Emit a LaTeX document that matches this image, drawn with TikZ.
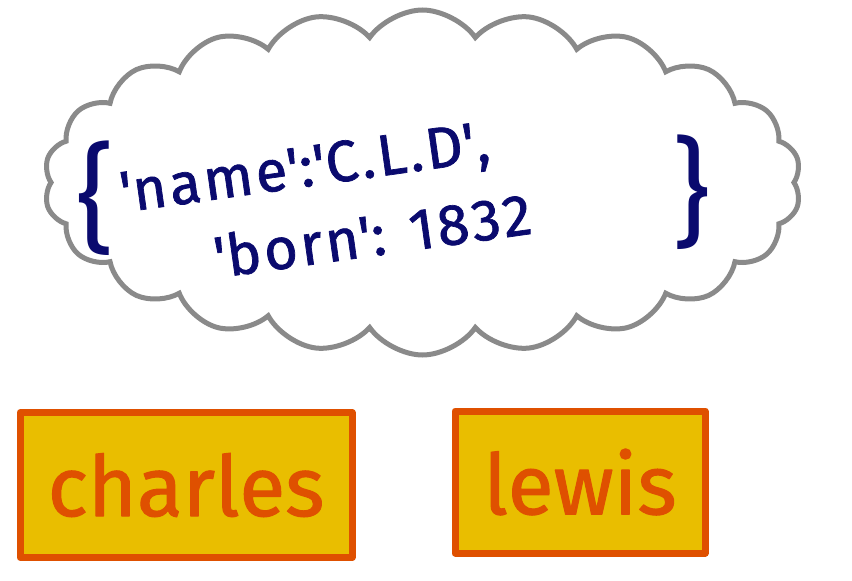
\documentclass[tikz,border=0pt]{standalone}
\usepackage{fontspec}
\setmainfont{Fira Sans}
\newfontfamily\handfont{Fira Sans}[FakeBold=1.2]
\newfontfamily\dictfont{Fira Sans}[FakeBold=1.2, LetterSpace=5]
\usetikzlibrary{shapes.symbols}
\definecolor{cloudgray}{HTML}{8A8A8A}
\definecolor{ink}{HTML}{0A0A6E}
\definecolor{boxedge}{HTML}{DF5000}
\definecolor{boxfill}{HTML}{E9BE00}
\tikzset{
  cloudline/.style={draw=cloudgray, fill=white, line width=5pt, cloud, cloud puffs=22, cloud puff arc=110, inner sep=0pt, minimum width=757pt, minimum height=345pt},
  dicttext/.style={text=ink, font=\dictfont\fontsize{58}{78}\selectfont, inner sep=0pt, align=left},
  bracetext/.style={text=ink, font=\fontsize{118}{120}\selectfont, inner sep=0pt},
  namebox/.style={draw=boxedge, fill=boxfill, line width=7pt, line join=round, text=boxedge, font=\handfont\fontsize{84}{90}\selectfont, inner sep=0pt}
}
\begin{document}
\begin{tikzpicture}[x=1pt,y=-1pt]
  \useasboundingbox (0,0) rectangle (852,581);
  \node[cloudline] (cloud) at (422.5,182.5) {};
  \node[bracetext] (lb) at (95,198) {\{};
  \node[bracetext] (rb) at (691,192) {\}};
  \node[dicttext, rotate=8, anchor=north west] (dict) at (117,172)
    {\textquotesingle name\textquotesingle:\textquotesingle C.L.D\textquotesingle,\\
     \hspace*{84pt}\textquotesingle born\textquotesingle: 1832};
  \node[namebox, minimum width=332pt, minimum height=145pt] (charles) at (186,485) {charles};
  \node[namebox, minimum width=250pt, minimum height=142pt] (lewis) at (580,482) {lewis};
\end{tikzpicture}
\end{document}
